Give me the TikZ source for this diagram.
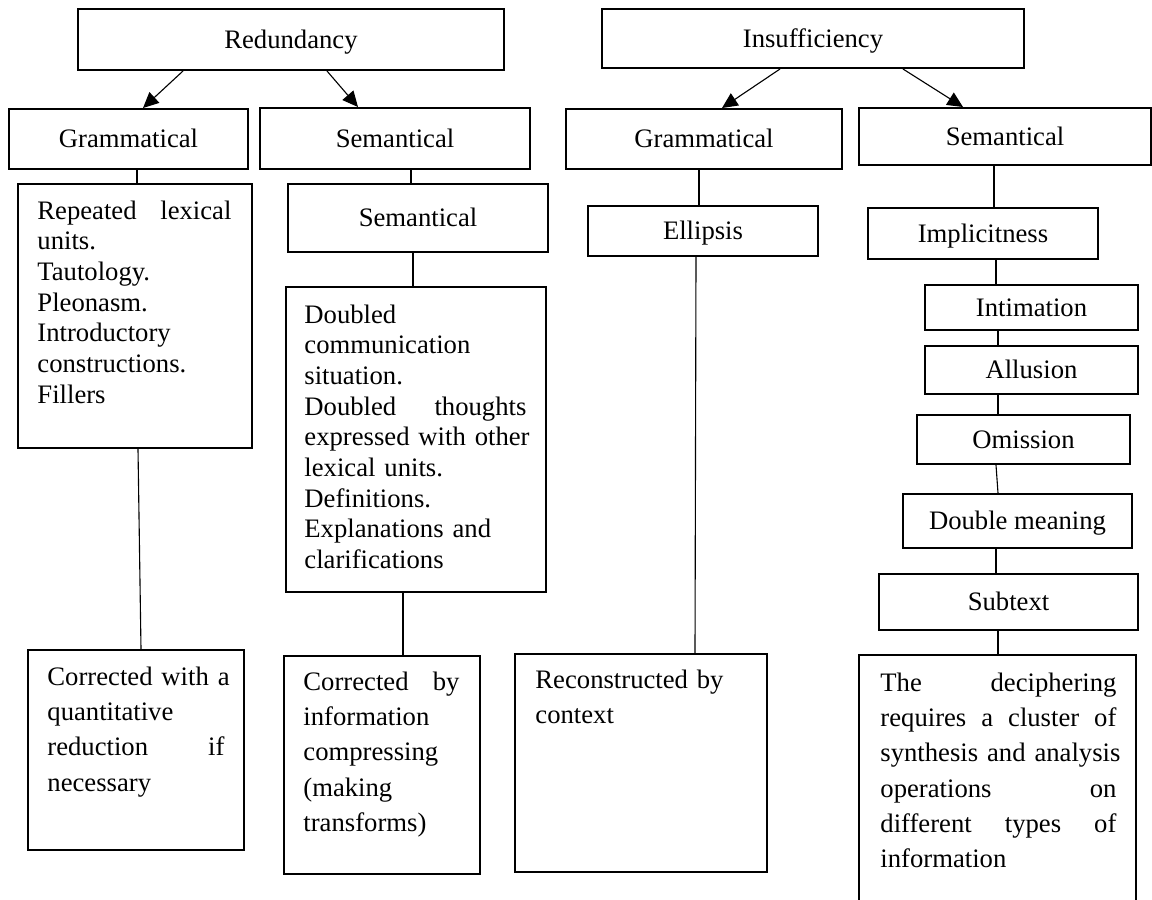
\documentclass[tikz,border=0pt]{standalone}
\usepackage{fontspec}
\setmainfont{Liberation Serif}
\usetikzlibrary{arrows.meta,calc}
\newcommand{\px}{0.45pt}
\hyphenpenalty=10000
\tikzstyle{box}=[draw,
                 line width=0.9pt,
                 inner sep=0pt,
                 anchor=north west,
                 text height=8pt,
                 text depth=0pt,
                 font=\fontsize{12pt}{13.8pt}\selectfont]
\tikzstyle{note}=[inner sep=0pt,
                  anchor=base west,
                  align=left,
                  font=\fontsize{12pt}{13.8pt}\selectfont]
\tikzstyle{loose}=[font=\fontsize{12pt}{15.9pt}\selectfont]
\tikzstyle{arr}=[-{Triangle[length=7pt,width=6.5pt]}, line width=0.5pt]
\tikzstyle{link}=[line width=0.5pt]

\begin{document}
\begin{tikzpicture}[x=\px, y=-\px]
    \useasboundingbox (0,0) rectangle (1152,899);
    \clip (0,0) rectangle (1152,899);
    % top level
    \node[box, minimum width=426*\px, minimum height=61*\px] (red) at (77,8) {Redundancy};
    \node[box, minimum width=422*\px, minimum height=59*\px] (ins) at (601,8) {Insufficiency};
    \node[box, minimum width=239*\px, minimum height=60*\px] (gramL) at (8,108) {Grammatical};
    \node[box, minimum width=270*\px, minimum height=61*\px] (semL) at (259,107) {Semantical};
    \node[box, minimum width=276*\px, minimum height=60*\px] (gramR) at (565,108) {Grammatical};
    \node[box, minimum width=292*\px, minimum height=57*\px] (semR) at (858,107) {Semantical};
    % middle
    \node[box, minimum width=234*\px, minimum height=264*\px] (rep) at (17,183) {};
    \node[box, minimum width=260*\px, minimum height=68*\px] (sem) at (287,183) {Semantical};
    \node[box, minimum width=260*\px, minimum height=305*\px] (dbl) at (285,286) {};
    \node[box, minimum width=230*\px, minimum height=50*\px] (ell) at (587,205) {Ellipsis};
    \node[box, minimum width=230*\px, minimum height=51*\px] (impl) at (867,207) {Implicitness};
    \node[box, minimum width=213*\px, minimum height=45*\px] (intim) at (924,284) {Intimation};
    \node[box, minimum width=213*\px, minimum height=48*\px] (allus) at (924,345) {Allusion};
    \node[box, minimum width=213*\px, minimum height=49*\px] (omis) at (916,414) {Omission};
    \node[box, minimum width=229*\px, minimum height=54*\px] (dblm) at (902,493) {Double meaning};
    \node[box, minimum width=259*\px, minimum height=56*\px] (subt) at (878,573) {Subtext};
    % bottom
    \node[box, minimum width=216*\px, minimum height=200*\px] (corr1) at (27,649) {};
    \node[box, minimum width=196*\px, minimum height=218*\px] (corr2) at (283,655) {};
    \node[box, minimum width=252*\px, minimum height=218*\px] (recon) at (514,653) {};
    \node[box, minimum width=277*\px, minimum height=300*\px] (deciph) at (858,654) {};
    % texts in the big boxes
    \node[note, text width=194*\px] (reptext) at ([shift={(20,36)}]rep.north west)
        {Repeated\hfill lexical\\ units.\\ Tautology.\\ Pleonasm.\\ Introductory\\ constructions.\\ Fillers};
    \node[note, text width=222*\px] (dbltext) at ([shift={(19,37)}]dbl.north west)
        {Doubled\\ communication\\ situation.\\ Doubled\hfill thoughts\\ \mbox{expressed with other}\\ lexical units.\\ Definitions.\\ Explanations and\\ clarifications};
    \node[note, loose, text width=177*\px] (corr1text) at ([shift={(20,36)}]corr1.north west)
        {\mbox{Corrected with a}\\ quantitative\\ reduction\hfill if\\ necessary};
    \node[note, loose, text width=156*\px] (corr2text) at ([shift={(20,35)}]corr2.north west)
        {Corrected\hfill by\\ information\\ compressing\\ (making\\ transforms)};
    \node[note, loose, text width=211*\px] (recontext) at ([shift={(21,35)}]recon.north west)
        {\mbox{Reconstructed by}\\ context};
    \node[note, loose, text width=236*\px] (deciphtext) at ([shift={(22,37)}]deciph.north west)
        {The\hfill deciphering\\ requires\hfill a\hfill cluster\hfill of\\ \mbox{synthesis and analysis}\\ operations\hfill on\\ different\hfill types\hfill of\\ information};
    % arrows
    \path[arr] ([xshift=106*\px]red.south west) edge ([xshift=135*\px]gramL.north west)
        ([xshift=250*\px]red.south west) edge ([xshift=99*\px]semL.north west)
        ([xshift=179*\px]ins.south west) edge ([xshift=157*\px]gramR.north west)
        ([xshift=302*\px]ins.south west) edge ([xshift=105*\px]semR.north west);
    % plain lines
    \path[link] ([xshift=129*\px]gramL.south west) edge ([xshift=120*\px]rep.north west)
        ([xshift=121*\px]rep.south west) edge ([xshift=114*\px]corr1.north west)
        ([xshift=152*\px]semL.south west) edge ([xshift=124*\px]sem.north west)
        ([xshift=126*\px]sem.south west) edge ([xshift=128*\px]dbl.north west)
        ([xshift=118*\px]dbl.south west) edge ([xshift=120*\px]corr2.north west)
        ([xshift=134*\px]gramR.south west) edge ([xshift=112*\px]ell.north west)
        ([xshift=109*\px]ell.south west) edge ([xshift=181*\px]recon.north west)
        ([xshift=136*\px]semR.south west) edge ([xshift=127*\px]impl.north west)
        ([xshift=129*\px]impl.south west) edge ([xshift=72*\px]intim.north west)
        ([xshift=74*\px]intim.south west) edge ([xshift=74*\px]allus.north west)
        ([xshift=74*\px]allus.south west) edge ([xshift=82*\px]omis.north west)
        ([xshift=80*\px]omis.south west) edge ([xshift=96*\px]dblm.north west)
        ([xshift=94*\px]dblm.south west) edge ([xshift=118*\px]subt.north west)
        ([xshift=120*\px]subt.south west) edge ([xshift=140*\px]deciph.north west);
\end{tikzpicture}
\end{document}
